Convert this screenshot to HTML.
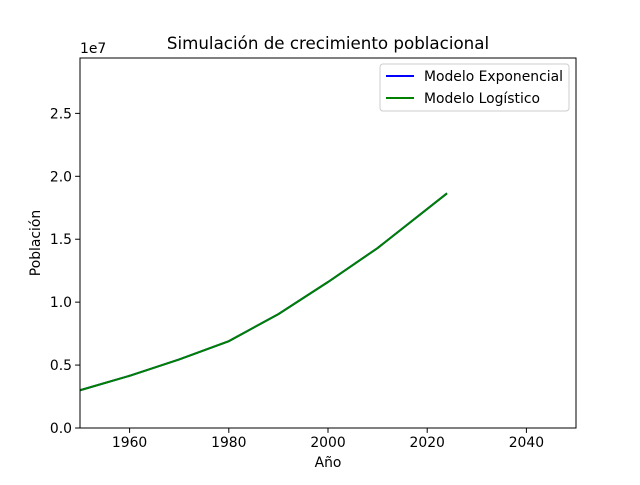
<!DOCTYPE html>
<html><head><meta charset="utf-8"><style>
body{margin:0;background:#fff;font-family:"Liberation Sans","DejaVu Sans",sans-serif;}
svg text{font-family:"DejaVu Sans","Liberation Sans",sans-serif;}
</style></head><body>
<svg id="c" width="640" height="480" xmlns="http://www.w3.org/2000/svg"></svg>
<script>
const years=[1950,1960,1970,1980,1990,2000,2010,2024];
const expVals=[3.0e6,4.15e6,5.45e6,6.9e6,9.05e6,11.6e6,14.3e6,18.65e6];
const logVals=[3.0e6,4.15e6,5.45e6,6.9e6,9.05e6,11.6e6,14.3e6,18.65e6];
const xTicks=[1960,1980,2000,2020,2040];
const yTicks=[0,0.5,1.0,1.5,2.0,2.5];
const L=80,R=576,T=58,B=428;
const x=v=>L+(v-1950)/100*(R-L);
const y=v=>B-v/2.94e7*(B-T);
const s=document.getElementById('c');
const NS='http://www.w3.org/2000/svg';
function mk(t,a,txt){const e=document.createElementNS(NS,t);for(const k in a)e.setAttribute(k,a[k]);if(txt!==undefined)e.textContent=txt;s.appendChild(e);return e;}
function line(vals,color,name){
 const p=mk('polyline',{points:years.map((yr,i)=>x(yr)+','+y(vals[i])).join(' '),fill:'none',stroke:color,'stroke-width':2});
 
 
}
line(expVals,'#0000ff','exponential-line');
line(logVals,'#008000','logistic-line');
const fr=mk('rect',{x:L,y:T,width:R-L,height:B-T,fill:'none',stroke:'#000','stroke-width':1});


xTicks.forEach(t=>{const px=x(t);mk('line',{x1:px,x2:px,y1:B,y2:B+4.9,stroke:'#000','stroke-width':1});
 const e=mk('text',{x:px,y:B+19,'text-anchor':'middle','font-size':13.9},t);
 
 });
yTicks.forEach(t=>{const py=y(t*1e7);mk('line',{x1:L-4.9,x2:L,y1:py,y2:py,stroke:'#000','stroke-width':1});
 const e=mk('text',{x:L-8,y:py+5,'text-anchor':'end','font-size':13.9},t.toFixed(1));
 
 });
const a=[
 ['text',{x:80,y:53,'font-size':13.9},'1e7','y-offset-label'],
 ['text',{x:328,y:49,'text-anchor':'middle','font-size':16.7},'Simulación de crecimiento poblacional','chart-title'],
 ['text',{x:328,y:467,'text-anchor':'middle','font-size':13.9},'Año','x-axis-title'],
 ['text',{x:40,y:243,'text-anchor':'middle','font-size':13.9,transform:'rotate(-90 40 243)'},'Población','y-axis-title']
];
a.forEach(d=>{const e=mk(d[0],d[1],d[2]);});
const lg=mk('rect',{x:380,y:64,width:189,height:47,rx:3,fill:'#fff',stroke:'#ccc','stroke-width':1});


[['#0000ff','Modelo Exponencial',76],['#008000','Modelo Logístico',98]].forEach(d=>{
 mk('line',{x1:386,x2:414,y1:d[2],y2:d[2],stroke:d[0],'stroke-width':2});
 const e=mk('text',{x:424,y:d[2]+5,'font-size':13.9},d[1]);
 
 
});
</script>
</body></html>
